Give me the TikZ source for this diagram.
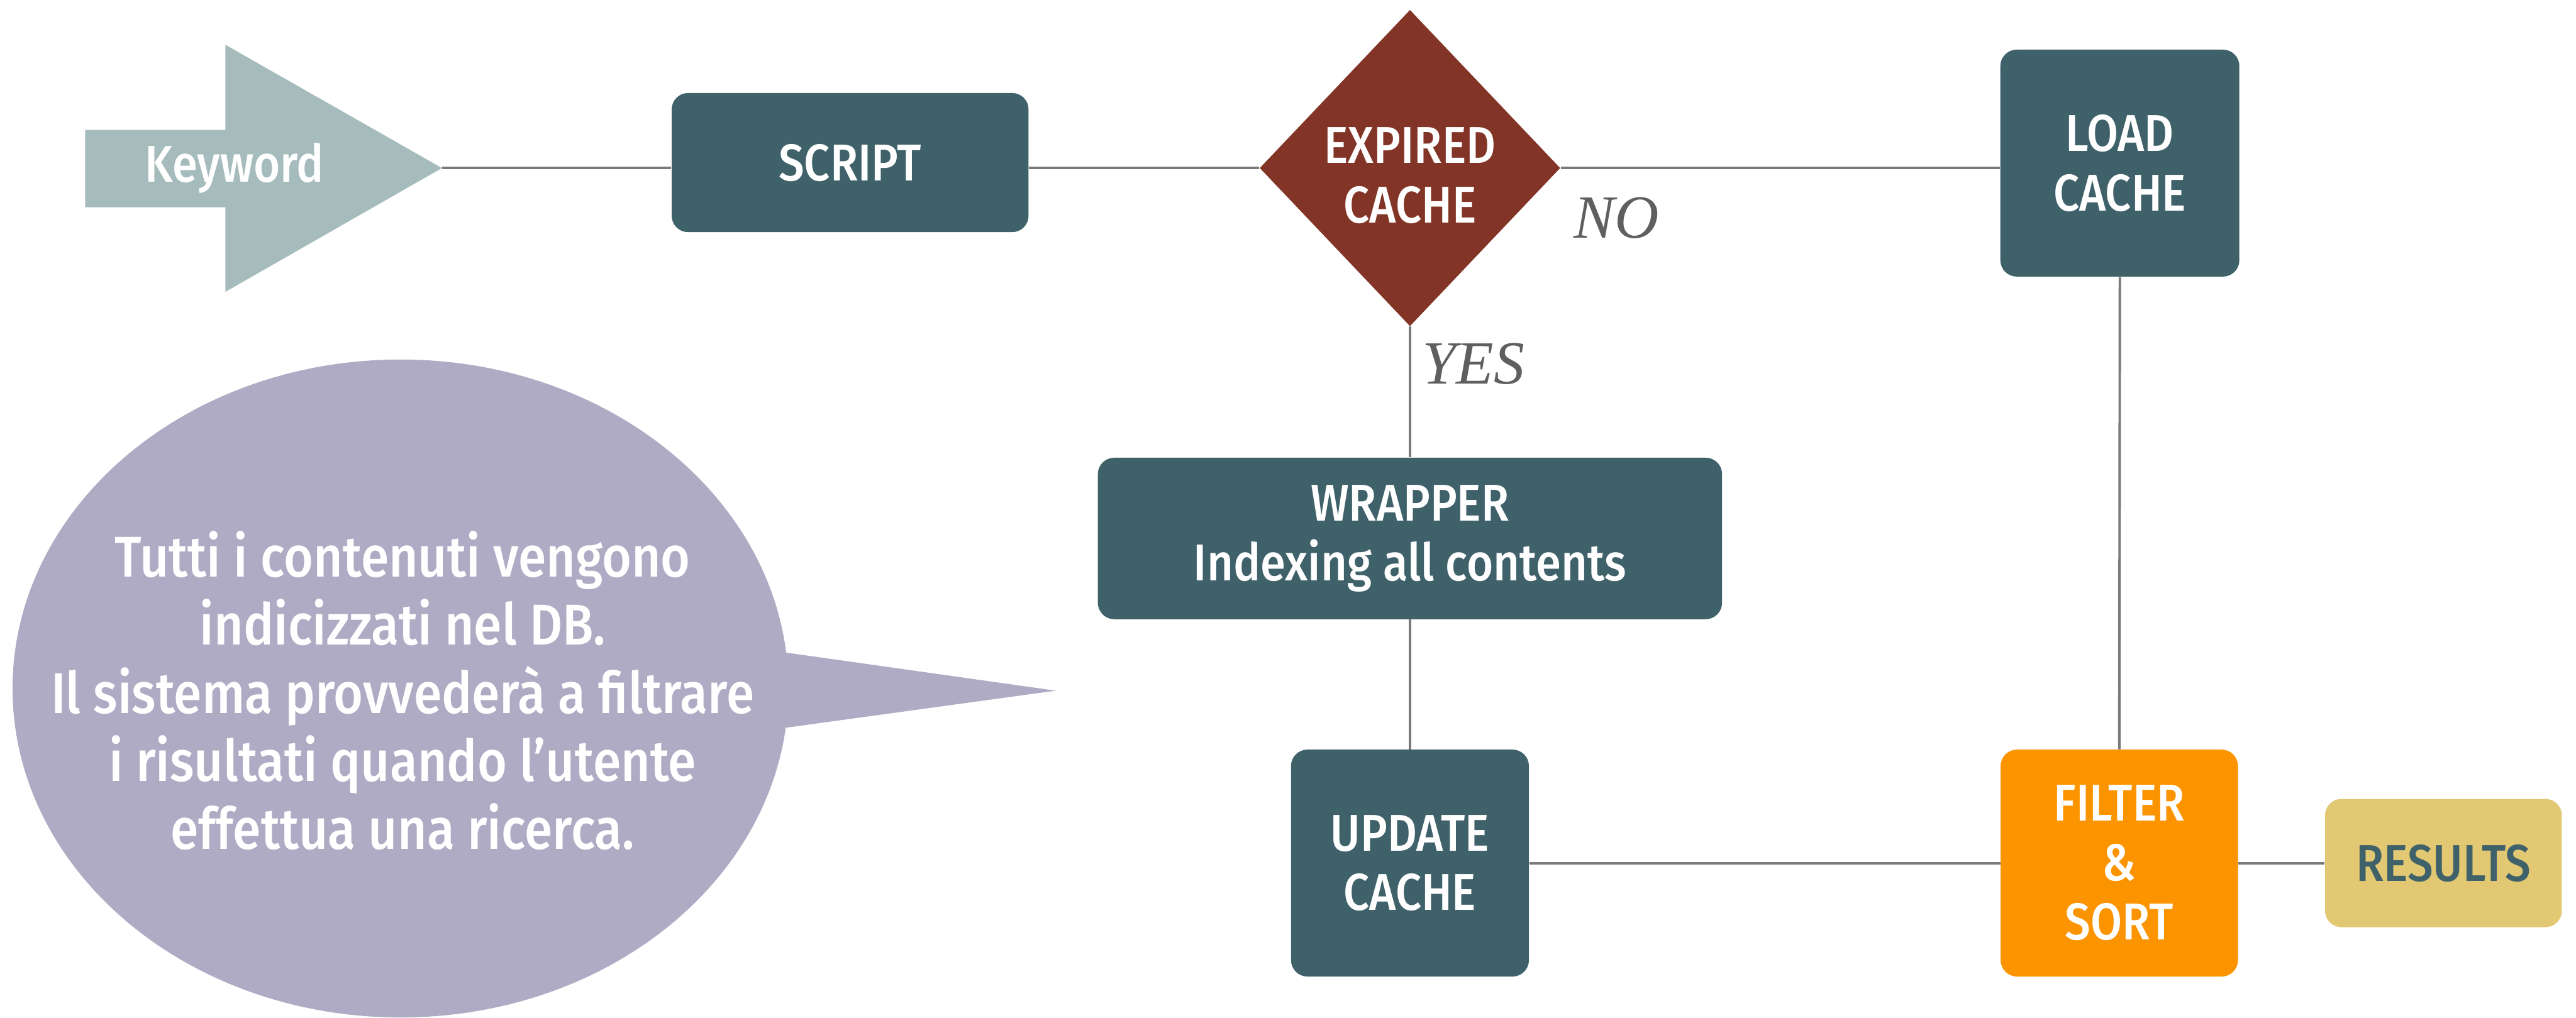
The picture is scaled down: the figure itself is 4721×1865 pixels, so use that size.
\documentclass[tikz,border=0pt]{standalone}
\usepackage{fontspec}
\newfontfamily\bfnt[FakeStretch=0.88]{Fira Sans Medium}
\newfontfamily\lfnt{Liberation Serif}
\usetikzlibrary{shapes.geometric}
\definecolor{cTeal}{RGB}{63,97,106}
\definecolor{cKey}{RGB}{166,188,188}
\definecolor{cDia}{RGB}{130,53,38}
\definecolor{cLav}{RGB}{176,171,196}
\definecolor{cOrange}{RGB}{252,148,0}
\definecolor{cRes}{RGB}{226,200,114}
\definecolor{cLine}{RGB}{122,122,122}
\definecolor{cLab}{RGB}{95,95,95}
\begin{document}
\begin{tikzpicture}[x=0.1mm,y=-0.1mm,
  box/.style={rectangle, rounded corners=3mm, fill=cTeal, text=white, align=center, inner sep=0pt,
    font=\bfnt\fontsize{27}{31}\selectfont},
  conn/.style={draw=cLine, line width=0.45mm},
  lab/.style={text=cLab, font=\lfnt\itshape\fontsize{32}{36}\selectfont, inner sep=0pt},
  btxt/.style={text=white, align=center, inner sep=0pt, font=\bfnt\fontsize{27}{31}\selectfont}]
\useasboundingbox (0,0) rectangle (4721,1865);

% keyword arrow
\fill[cKey] (156,238) -- (413,238) -- (413,82) -- (810,308) -- (413,535) -- (413,380) -- (156,380) -- cycle;
\coordinate (kwtip) at (810,308);
\node[btxt] (kw) at (430,308) {Keyword};

% speech bubble
\node[ellipse, fill=cLav, inner sep=0pt, minimum width=142.2mm, minimum height=120.6mm] (bubble) at (734,1262) {};
\coordinate (bubtip) at (1935,1266);
\fill[cLav] (1425,1194) -- (bubtip) -- (1425,1336) -- cycle;
\node[btxt, font=\bfnt\fontsize{30}{35.5}\selectfont] (bubtext) at (738,1266)
  {Tutti i contenuti vengono\\indicizzati nel DB.\\Il sistema provvederà a filtrare\\i risultati quando l’utente\\effettua una ricerca.};

% nodes
\node[box, minimum width=65.4mm, minimum height=25.5mm] (script) at (1558,298) {SCRIPT};
\node[diamond, fill=cDia, inner sep=0pt, minimum width=55.1mm, minimum height=58mm] (dia) at (2584,308) {};
\node[btxt] (diatext) at (2584,322) {EXPIRED\\CACHE};
\node[box, minimum width=43.8mm, minimum height=41.6mm] (load) at (3885,299) {LOAD\\CACHE};
\node[box, minimum width=114.4mm, minimum height=29.6mm] (wrap) at (2584,987) {WRAPPER\\Indexing all contents};
\node[box, minimum width=43.6mm, minimum height=41.6mm] (upd) at (2584,1582) {UPDATE\\CACHE};
\node[box, fill=cOrange, minimum width=43.5mm, minimum height=41.6mm] (filt) at (3884,1582) {FILTER\\\&\\SORT};
\node[box, fill=cRes, text=cTeal, minimum width=43.4mm, minimum height=23.5mm] (res) at (4478,1582) {RESULTS};

% labels
\node[lab] (no) at (2962,399) {NO};
\node[lab] (yes) at (2700,667) {YES};

% connectors
\draw[conn] (kwtip) -- (kwtip -| script.west);
\draw[conn] (script.east |- dia.west) -- (dia.west);
\draw[conn] (dia.east) -- (dia.east -| load.west);
\draw[conn] (dia.south) -- (wrap.north);
\draw[conn] (wrap.south) -- (upd.north);
\draw[conn] (load.south) -- (filt.north);
\draw[conn] (upd.east) -- (filt.west);
\draw[conn] (filt.east) -- (res.west);
\end{tikzpicture}
\end{document}
